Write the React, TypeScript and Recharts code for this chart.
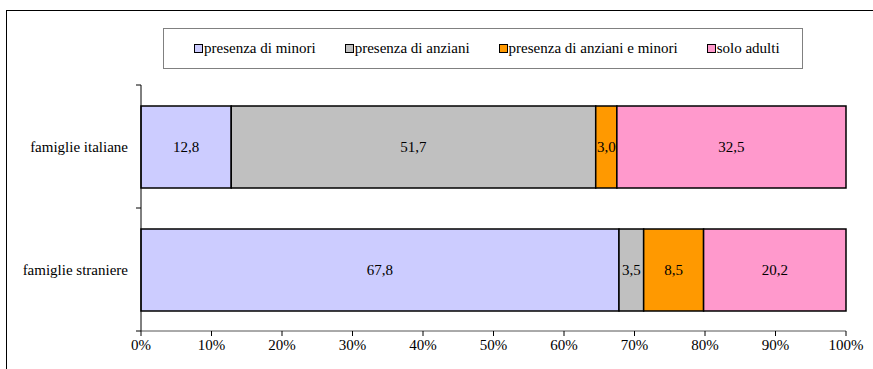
import React from "react";
import { Bar, BarChart, LabelList, XAxis, YAxis } from "recharts";

const categories = ["famiglie italiane", "famiglie straniere"];
const presenzaMinori = [12.8, 67.8];
const presenzaAnziani = [51.7, 3.5];
const presenzaAnzianiMinori = [3.0, 8.5];
const soloAdulti = [32.5, 20.2];
const xTicks = [0, 10, 20, 30, 40, 50, 60, 70, 80, 90, 100];

const series = [
  { key: "minori", name: "presenza di minori", color: "#CCCCFF", values: presenzaMinori },
  { key: "anziani", name: "presenza di anziani", color: "#C0C0C0", values: presenzaAnziani },
  { key: "anzianiMinori", name: "presenza di anziani e minori", color: "#FF9900", values: presenzaAnzianiMinori },
  { key: "soloAdulti", name: "solo adulti", color: "#FF99CC", values: soloAdulti },
];

const data = categories.map((name, i) => {
  const row: Record<string, string | number> = { name };
  series.forEach((s) => {
    row[s.key] = s.values[i];
  });
  return row;
});

const W = 873;
const H = 369;
const margin = { top: 85, right: 27, bottom: 8, left: 6 };
const yAxisWidth = 135;
const xAxisHeight = 30;
const plotLeft = margin.left + yAxisWidth;
const plotHeight = H - margin.top - margin.bottom - xAxisHeight;
const band = plotHeight / categories.length;

const serif = "Liberation Serif";
const fs = 15;

const fmt = (v: unknown) => Number(v).toFixed(1).replace(".", ",");

function CategoryTick(props: any) {
  const { y, payload, index } = props;
  const top = y - band / 2;
  const bottom = y + band / 2;
  return (
    <g>
      <line x1={plotLeft - 5} x2={plotLeft} y1={top} y2={top} stroke="#000" />
      {index === categories.length - 1 && (
        <line x1={plotLeft - 5} x2={plotLeft} y1={bottom} y2={bottom} stroke="#000" />
      )}
      <text
        x={plotLeft - 13}
        y={y}
        textAnchor="end"
        dominantBaseline="central"
        fontFamily={serif}
        fontSize={fs}
        fill="#000"
      >
        {payload.value}
      </text>
    </g>
  );
}

export default function App() {
  return (
    <div
      style={{
        position: "fixed",
        left: 0,
        top: 0,
        width: W,
        height: H,
        overflow: "hidden",
        background: "#fff",
        fontFamily: serif,
      }}
    >
      <div
        style={{
          position: "absolute",
          left: 6,
          top: 10,
          width: W + 20,
          height: H + 20,
          borderTop: "1.5px solid #000",
          borderLeft: "1.5px solid #000",
        }}
      />
      <div
        style={{
          position: "absolute",
          left: 163,
          top: 28,
          width: 640,
          height: 41,
          border: "1px solid #808080",
          boxSizing: "border-box",
          display: "flex",
          alignItems: "center",
          justifyContent: "flex-start",
          paddingLeft: 30,
          gap: 29,
          fontSize: fs,
          fontFamily: serif,
          color: "#000",
        }}
      >
        {series.map((s) => (
          <div key={s.key} style={{ display: "flex", alignItems: "center" }}>
            <span
              style={{
                display: "inline-block",
                width: 7,
                height: 7,
                background: s.color,
                border: "1px solid #000",
                marginRight: 1,
              }}
            />
            <span>{s.name}</span>
          </div>
        ))}
      </div>
      <div style={{ position: "absolute", left: 0, top: 0 }}>
        <BarChart
          width={W}
          height={H}
          data={data}
          layout="vertical"
          margin={margin}
          barSize={82}
        >
          <XAxis
            type="number"
            domain={[0, 100]}
            ticks={xTicks}
            tickFormatter={(v) => `${v}%`}
            height={xAxisHeight}
            axisLine={{ stroke: "#555" }}
            tickLine={{ stroke: "#000" }}
            tickSize={5}
            tickMargin={3}
            tick={{ fill: "#000", fontSize: fs, fontFamily: serif }}
            interval={0}
          />
          <YAxis
            type="category"
            dataKey="name"
            width={yAxisWidth}
            axisLine={{ stroke: "#000" }}
            tickLine={false}
            tick={<CategoryTick />}
            interval={0}
          />
          {series.map((s) => (
            <Bar
              key={s.key}
              dataKey={s.key}
              name={s.name}
              stackId="a"
              fill={s.color}
              stroke="#000"
              strokeWidth={1.5}
              isAnimationActive={false}
            >
              <LabelList
                dataKey={s.key}
                position="center"
                formatter={fmt}
                fill="#000"
                fontSize={fs}
                fontFamily={serif}
              />
            </Bar>
          ))}
        </BarChart>
      </div>
    </div>
  );
}
